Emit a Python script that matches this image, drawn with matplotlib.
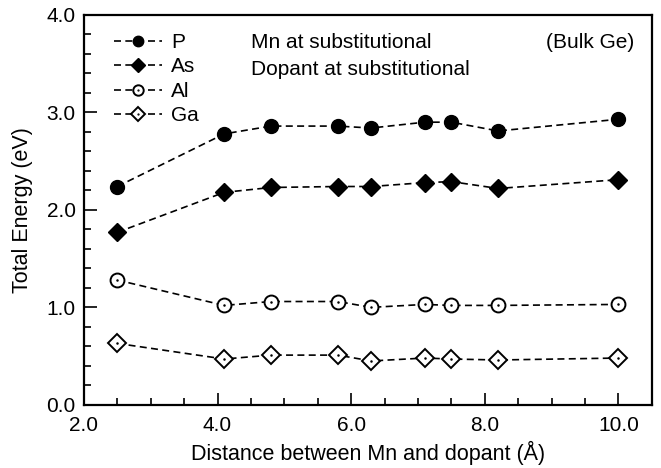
import matplotlib
matplotlib.use("Agg")
import matplotlib.pyplot as plt
from matplotlib.ticker import MultipleLocator

plt.rcParams['font.family'] = ['Liberation Sans', 'DejaVu Sans']
plt.rcParams['font.size'] = 15

dist = [2.5, 4.1, 4.8, 5.8, 6.3, 7.1, 7.5, 8.2, 10.0]
e_P = [2.24, 2.78, 2.86, 2.86, 2.84, 2.90, 2.90, 2.81, 2.93]
e_As = [1.77, 2.18, 2.23, 2.24, 2.24, 2.28, 2.29, 2.22, 2.31]
e_Al = [1.28, 1.02, 1.06, 1.06, 1.00, 1.03, 1.02, 1.02, 1.03]
e_Ga = [0.63, 0.47, 0.51, 0.51, 0.45, 0.48, 0.47, 0.46, 0.48]
names = ['P', 'As', 'Al', 'Ga']

fig = plt.figure(figsize=(6.61, 4.68), dpi=100)
ax = fig.add_axes([0.127, 0.135, 0.859, 0.833])

ls = dict(color='k', ls='--', lw=1.2, dashes=(4.2, 2.6))
handles = []
l1, = ax.plot(dist, e_P, marker='o', ms=10, **ls)
handles.append(l1)
l2, = ax.plot(dist, e_As, marker='D', ms=9, **ls)
handles.append(l2)
l3, = ax.plot(dist, e_Al, marker='o', ms=10, mfc='white', mew=1.4, **ls)
d3, = ax.plot(dist, e_Al, 'k.', ms=1.6)
handles.append((l3, d3))
l4, = ax.plot(dist, e_Ga, marker='D', ms=9, mfc='white', mew=1.4, **ls)
d4, = ax.plot(dist, e_Ga, 'k.', ms=1.6)
handles.append((l4, d4))

ax.legend(handles, names, loc='upper left', bbox_to_anchor=(0.038, 0.975), frameon=False,
          fontsize=15, handlelength=2.3, labelspacing=0.26, borderaxespad=0,
          handletextpad=0.45, markerscale=0.75)

ax.text(0.295, 0.916, 'Mn at substitutional', transform=ax.transAxes, fontsize=15, va='baseline')
ax.text(0.295, 0.846, 'Dopant at substitutional', transform=ax.transAxes, fontsize=15, va='baseline')
ax.text(0.970, 0.916, '(Bulk Ge)', transform=ax.transAxes, fontsize=15, ha='right', va='baseline')

ax.set_xlim(2.0, 10.5)
ax.set_ylim(0.0, 4.0)
ax.xaxis.set_major_locator(MultipleLocator(2.0))
ax.xaxis.set_minor_locator(MultipleLocator(0.5))
ax.yaxis.set_major_locator(MultipleLocator(1.0))
ax.yaxis.set_minor_locator(MultipleLocator(0.2))
ax.xaxis.set_major_formatter(plt.FormatStrFormatter('%.1f'))
ax.yaxis.set_major_formatter(plt.FormatStrFormatter('%.1f'))
ax.tick_params(which='both', direction='in', width=1.2)
ax.tick_params(which='major', length=9, labelsize=15)
ax.tick_params(which='minor', length=5)
ax.tick_params(axis='x', which='major', pad=8)
ax.tick_params(axis='y', which='major', pad=6)
for s in ax.spines.values():
    s.set_linewidth(1.6)

ax.set_xlabel('Distance between Mn and dopant (Å)', fontsize=15.5)
ax.set_ylabel('Total Energy (eV)', fontsize=15.5)
ax.xaxis.set_label_coords(0.5, -0.092)
ax.yaxis.set_label_coords(-0.09, 0.5)

fig.savefig('out.png', dpi=100)
